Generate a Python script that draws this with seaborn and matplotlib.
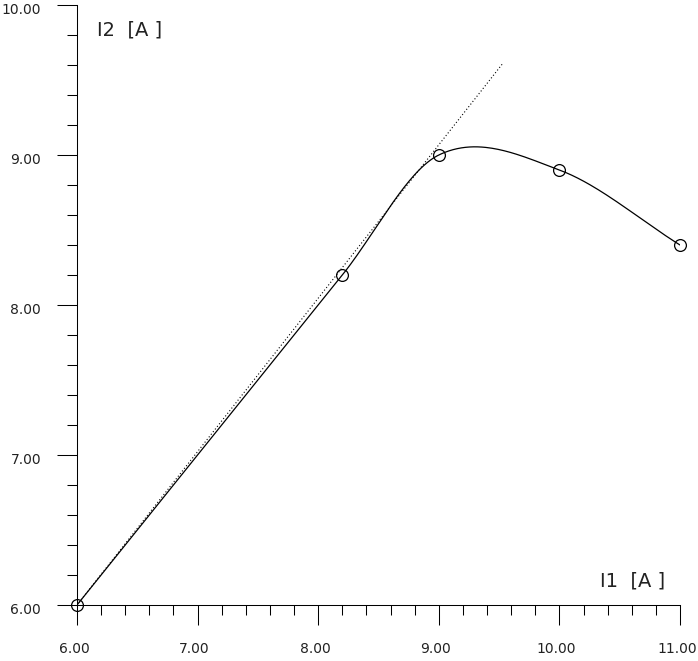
import numpy as np
import pandas as pd
import matplotlib
matplotlib.use("Agg")
import matplotlib.pyplot as plt
import matplotlib.transforms as mtransforms
import seaborn as sns

# measured points
i1 = [6.0, 8.2, 9.0, 10.0, 11.0]
i2 = [6.0, 8.2, 9.0, 8.9, 8.4]

# dotted reference line (start / end)
ref_x = [6.0, 9.53]
ref_y = [6.0, 9.61]

x_ticks = [6.0, 7.0, 8.0, 9.0, 10.0, 11.0]
y_ticks = [6.0, 7.0, 8.0, 9.0, 10.0]


def smooth_line(xs, ys, n=60):
    # cubic hermite segments with catmull-rom style slopes, just for drawing
    xs = np.asarray(xs, float)
    ys = np.asarray(ys, float)
    k = len(xs)
    m = np.empty(k)
    m[0] = (ys[1] - ys[0]) / (xs[1] - xs[0])
    m[-1] = (ys[-1] - ys[-2]) / (xs[-1] - xs[-2])
    for i in range(1, k - 1):
        m[i] = (ys[i + 1] - ys[i - 1]) / (xs[i + 1] - xs[i - 1])
    out_x, out_y = [], []
    for i in range(k - 1):
        h = xs[i + 1] - xs[i]
        s = np.linspace(0, 1, n)
        h00 = 2 * s**3 - 3 * s**2 + 1
        h10 = s**3 - 2 * s**2 + s
        h01 = -2 * s**3 + 3 * s**2
        h11 = s**3 - s**2
        out_x.append(xs[i] + s * h)
        out_y.append(h00 * ys[i] + h10 * h * m[i] + h01 * ys[i + 1] + h11 * h * m[i + 1])
    return np.concatenate(out_x), np.concatenate(out_y)


sns.set_style("ticks")
plt.rcParams["font.family"] = ["DejaVu Sans"]

fig = plt.figure(figsize=(6.98, 6.61), dpi=100)
ax = fig.add_axes([77 / 698, 56 / 661, 603 / 698, 600 / 661])

cx, cy = smooth_line(i1, i2)
curve = pd.DataFrame({"I1": cx, "I2": cy})
ref = pd.DataFrame({"I1": ref_x, "I2": ref_y})
pts = pd.DataFrame({"I1": i1, "I2": i2})

sns.lineplot(data=ref, x="I1", y="I2", ax=ax, color="black", lw=0.8,
             linestyle=(0, (1, 2)), sort=False)
sns.lineplot(data=curve, x="I1", y="I2", ax=ax, color="black", lw=0.9, sort=False)
ax.plot(pts["I1"], pts["I2"], "o", ms=8.5, mfc="none", mec="black", mew=0.9,
        clip_on=False, zorder=5)

ax.set_xlim(6, 11)
ax.set_ylim(6, 10)
ax.set_xticks(x_ticks)
ax.set_yticks(y_ticks)
ax.set_xticklabels([f"{v:.2f}" for v in x_ticks])
ax.set_yticklabels([f"{v:.2f}" for v in y_ticks])
ax.set_xticks([t for t in np.arange(6.2, 11.0, 0.2) if abs(t - round(t)) > 1e-6], minor=True)
ax.set_yticks([t for t in np.arange(6.2, 10.0, 0.2) if abs(t - round(t)) > 1e-6], minor=True)

ax.tick_params(which="major", direction="out", length=14.4, width=0.75,
               color="black", labelsize=10, labelcolor="#222222")
ax.tick_params(which="minor", direction="out", length=7.2, width=0.75, color="black")
ax.tick_params(axis="x", which="major", pad=12)
ax.tick_params(axis="y", which="major", pad=11.5)

for side in ["top", "right"]:
    ax.spines[side].set_visible(False)
for side in ["left", "bottom"]:
    ax.spines[side].set_linewidth(0.75)
    ax.spines[side].set_color("black")

ax.set_xlabel("")
ax.set_ylabel("")
ax.text(0.033, 0.958, "I2  [A ]", transform=ax.transAxes, ha="left", va="center",
        fontsize=14, color="#222222")
ax.text(0.867, 0.04, "I1  [A ]", transform=ax.transAxes, ha="left", va="center",
        fontsize=14, color="#222222")

# small nudges so the end labels stay inside the picture like the original
dx = mtransforms.ScaledTranslation(-3 / 100, 0, fig.dpi_scale_trans)
dy = mtransforms.ScaledTranslation(0, -3 / 100, fig.dpi_scale_trans)
for lab in ax.get_xticklabels():
    lab.set_transform(lab.get_transform() + dx)
for lab in ax.get_yticklabels():
    lab.set_transform(lab.get_transform() + dy)

fig.savefig("out.png", dpi=100)
